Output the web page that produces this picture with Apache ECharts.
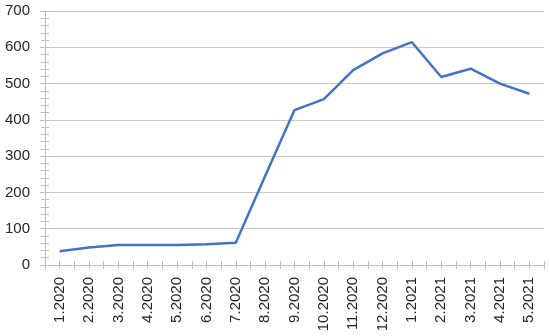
<!DOCTYPE html>
<html>
<head>
<meta charset="utf-8">
<script src="https://cdn.jsdelivr.net/npm/echarts@6/dist/echarts.min.js"></script>
<style>
  html, body { margin: 0; padding: 0; background: #fff; }
  #main { width: 550px; height: 336px; }
</style>
</head>
<body>
<div id="main"></div>
<script>
var months = ['1.2020', '2.2020', '3.2020', '4.2020', '5.2020', '6.2020', '7.2020', '8.2020', '9.2020',
    '10.2020', '11.2020', '12.2020', '1.2021', '2.2021', '3.2021', '4.2021', '5.2021'];
var values = [38, 48, 55, 55, 55, 57, 61, 245, 427, 457, 537, 583, 614, 518, 541, 500, 472];
var yMin = 0;
var yMax = 700;
var yStep = 100;

var chartDom = document.getElementById('main');
var myChart = echarts.init(chartDom);

var axisColor = '#bfbfbf';
var textStyle = { color: '#262626', fontFamily: 'Liberation Sans', fontSize: 15 };

// excel style crossing ticks: one axis outside, one inside
function xAxisFor(centered, inside, withLabels) {
    return {
        type: 'category',
        position: 'bottom',
        data: months,
        boundaryGap: true,
        axisLine: { show: withLabels, lineStyle: { color: axisColor, width: 1 } },
        axisTick: {
            show: true,
            inside: inside,
            length: 4,
            interval: 0,
            alignWithLabel: centered,
            lineStyle: { color: axisColor }
        },
        axisLabel: withLabels ? Object.assign({ rotate: 90, margin: 12, interval: 0 }, textStyle) : { show: false },
        splitLine: { show: false }
    };
}

function yAxisFor(inside, withLabels) {
    return {
        type: 'value',
        position: 'left',
        min: yMin,
        max: yMax,
        interval: yStep,
        axisLine: { show: withLabels, lineStyle: { color: axisColor, width: 1 } },
        axisTick: { show: true, inside: inside, length: 5, lineStyle: { color: axisColor } },
        minorTick: { show: true, splitNumber: 5, length: 4, lineStyle: { color: axisColor } },
        axisLabel: withLabels ? Object.assign({ margin: 15 }, textStyle) : { show: false },
        splitLine: { show: withLabels, lineStyle: { color: '#c8c8c8', width: 1 } }
    };
}

var option = {
    animation: false,
    grid: { left: 45, right: 6, top: 11, bottom: 71, containLabel: false },
    xAxis: [
        xAxisFor(false, false, true),
        xAxisFor(false, true, false),
        xAxisFor(true, false, false),
        xAxisFor(true, true, false)
    ],
    yAxis: [
        yAxisFor(false, true),
        yAxisFor(true, false)
    ],
    series: [
        {
            type: 'line',
            xAxisIndex: 0,
            yAxisIndex: 0,
            data: values,
            symbol: 'none',
            lineStyle: { color: '#4472c4', width: 2.5 },
            itemStyle: { color: '#4472c4' }
        }
    ]
};

myChart.setOption(option);
</script>
</body>
</html>
